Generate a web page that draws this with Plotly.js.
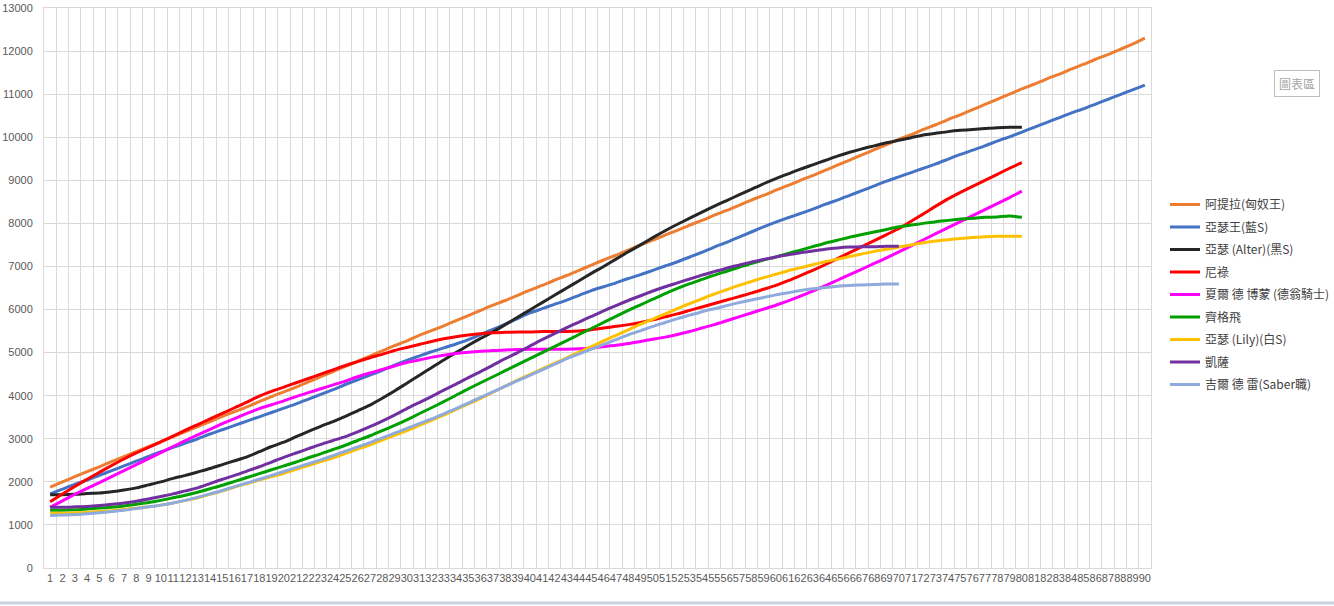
<!DOCTYPE html>
<html>
<head>
<meta charset="utf-8">
<script src="https://cdn.plot.ly/plotly-3.0.1.min.js"></script>
<style>
html,body{margin:0;padding:0;background:#fff;}
#chart{width:1334px;height:606px;}
</style>
</head>
<body>
<div id="chart"></div>
<script>
const categories = ["1","2","3","4","5","6","7","8","9","10","11","12","13","14","15","16","17","18","19","20","21","22","23","24","25","26","27","28","29","30","31","32","33","34","35","36","37","38","39","40","41","42","43","44","45","46","47","48","49","50","51","52","53","54","55","56","57","58","59","60","61","62","63","64","65","66","67","68","69","70","71","72","73","74","75","76","77","78","79","80","81","82","83","84","85","86","87","88","89","90"];

const seriesNames = ["阿提拉(匈奴王)","亞瑟王(藍S)","亞瑟 (Alter)(黑S)","尼祿","夏爾 德 博蒙 (德翁騎士)","齊格飛","亞瑟 (Lily)(白S)","凱薩","吉爾 德 雷(Saber職)"];

const attila = [1880,2000,2120,2235,2350,2470,2585,2700,2815,2930,3050,3165,3280,3400,3520,3630,3740,3860,3980,4090,4200,4320,4440,4560,4680,4800,4920,5040,5160,5270,5400,5510,5620,5740,5860,5980,6100,6210,6330,6450,6560,6680,6790,6910,7030,7150,7260,7380,7500,7610,7730,7840,7960,8070,8190,8300,8420,8540,8650,8770,8880,9000,9110,9230,9350,9470,9590,9710,9830,9950,10060,10180,10290,10410,10520,10640,10760,10880,11000,11120,11230,11350,11460,11580,11690,11810,11920,12040,12160,12300];

const arturiaBlue = [1720,1830,1940,2040,2150,2260,2370,2480,2590,2700,2800,2900,3000,3110,3210,3310,3410,3510,3610,3710,3810,3920,4030,4140,4260,4370,4480,4590,4710,4820,4920,5020,5110,5200,5300,5420,5540,5660,5790,5920,6020,6120,6220,6330,6440,6530,6620,6720,6810,6910,7010,7110,7220,7330,7450,7560,7680,7800,7920,8030,8130,8230,8330,8440,8540,8650,8760,8870,8980,9080,9180,9280,9380,9490,9600,9700,9800,9910,10010,10120,10230,10340,10450,10560,10660,10770,10880,10990,11100,11210];

const arturiaAlter = [1700,1700,1710,1730,1740,1770,1810,1860,1930,2000,2080,2150,2230,2310,2400,2490,2580,2700,2820,2920,3050,3170,3290,3400,3520,3650,3780,3940,4110,4290,4470,4650,4830,5000,5170,5330,5480,5650,5820,5990,6160,6330,6500,6670,6840,7000,7170,7340,7500,7670,7830,7980,8120,8260,8400,8530,8660,8790,8920,9040,9150,9260,9360,9460,9560,9650,9730,9800,9870,9930,9990,10050,10090,10130,10160,10180,10200,10220,10230,10230];

const nero = [1540,1720,1890,2060,2220,2380,2530,2670,2800,2930,3060,3200,3330,3460,3590,3720,3850,3990,4100,4200,4300,4400,4500,4600,4700,4790,4880,4960,5050,5120,5190,5260,5320,5370,5410,5440,5460,5470,5480,5480,5490,5490,5490,5500,5530,5570,5610,5650,5700,5760,5830,5900,5980,6060,6140,6220,6300,6380,6470,6560,6670,6790,6910,7040,7180,7320,7460,7600,7740,7880,8050,8220,8400,8570,8720,8860,9000,9140,9280,9410];

const chevalier = [1410,1560,1710,1850,1980,2120,2260,2400,2540,2680,2820,2960,3090,3220,3350,3470,3590,3700,3790,3880,3980,4070,4160,4250,4340,4440,4530,4610,4690,4770,4830,4890,4940,4980,5010,5030,5050,5060,5070,5080,5080,5080,5080,5090,5110,5140,5170,5210,5260,5310,5360,5420,5490,5570,5650,5740,5830,5920,6010,6100,6200,6310,6430,6550,6680,6810,6940,7070,7200,7340,7480,7620,7760,7900,8040,8180,8320,8460,8600,8750];

const siegfried = [1340,1340,1350,1370,1390,1410,1440,1480,1520,1570,1630,1690,1760,1840,1920,2010,2100,2190,2280,2370,2460,2560,2650,2750,2850,2960,3070,3190,3310,3440,3580,3720,3860,4010,4160,4300,4440,4580,4720,4860,5000,5140,5280,5420,5560,5700,5840,5980,6110,6240,6370,6490,6600,6700,6800,6890,6980,7070,7150,7220,7300,7380,7460,7540,7610,7680,7740,7800,7860,7920,7960,8000,8040,8070,8100,8120,8140,8150,8170,8140];

const arturiaLily = [1270,1270,1280,1290,1310,1330,1360,1390,1420,1460,1510,1570,1630,1710,1790,1880,1960,2040,2120,2200,2290,2380,2470,2560,2660,2760,2860,2970,3080,3190,3310,3430,3550,3680,3810,3940,4080,4220,4360,4490,4620,4750,4880,5010,5140,5270,5400,5530,5660,5780,5900,6020,6140,6250,6360,6460,6560,6650,6740,6820,6900,6970,7040,7110,7170,7230,7290,7350,7400,7450,7500,7550,7590,7620,7650,7670,7690,7700,7700,7700];

const caesar = [1410,1410,1420,1430,1450,1480,1510,1550,1600,1660,1720,1790,1860,1960,2060,2150,2250,2350,2460,2570,2670,2770,2870,2960,3050,3160,3280,3410,3550,3700,3840,3980,4130,4270,4420,4560,4710,4860,5000,5150,5300,5440,5580,5710,5840,5970,6090,6210,6320,6430,6530,6620,6710,6800,6880,6960,7030,7100,7160,7220,7270,7320,7360,7400,7430,7450,7460,7460,7470,7470];

const gillesSaber = [1220,1230,1240,1260,1280,1310,1340,1380,1420,1460,1510,1570,1640,1720,1800,1890,1970,2060,2150,2240,2330,2420,2510,2610,2710,2810,2910,3020,3130,3240,3350,3460,3580,3700,3830,3960,4090,4220,4350,4470,4600,4730,4860,4970,5080,5190,5300,5410,5510,5610,5700,5790,5870,5950,6020,6090,6160,6220,6280,6340,6390,6440,6480,6510,6540,6560,6570,6580,6590,6590];

const yTicks = [0,1000,2000,3000,4000,5000,6000,7000,8000,9000,10000,11000,12000,13000];

const allSeries = [attila, arturiaBlue, arturiaAlter, nero, chevalier, siegfried, arturiaLily, caesar, gillesSaber];
const colors = ["#ED7D31","#4472C4","#262626","#FF0000","#FF00FF","#00A000","#FFC000","#7030A0","#8FAADC"];

const traces = allSeries.map((vals, i) => ({
  type: 'scatter',
  mode: 'lines',
  name: seriesNames[i],
  legendgroup: 'g' + i,
  x: categories.slice(0, vals.length),
  y: vals,
  line: {color: colors[i], width: 3, shape: 'spline', smoothing: 0.6},
  hoverinfo: 'x+y+name'
}));

const L = 44, R = 1151, T = 8, B = 568;
const PW = R - L, PH = B - T;

const layout = {
  width: 1334,
  height: 606,
  margin: {l: L, r: 1334 - R, t: T, b: 606 - B, pad: 0, autoexpand: false},
  paper_bgcolor: '#ffffff',
  plot_bgcolor: '#ffffff',
  font: {family: '"Liberation Sans", "Noto Sans CJK TC", sans-serif', color: '#595959', size: 11},
  showlegend: true,
  legend: {
    x: (1165 - L) / PW, y: (B - 190) / PH, xanchor: 'left', yanchor: 'top',
    font: {family: '"Noto Sans CJK TC", "Liberation Sans", sans-serif', size: 12, color: '#404040'},
    tracegroupgap: 3.5,
    bgcolor: 'rgba(0,0,0,0)'
  },
  xaxis: {
    type: 'category',
    categoryorder: 'array',
    categoryarray: categories,
    tickmode: 'array',
    tickvals: categories,
    ticktext: categories,
    tickson: 'boundaries',
    tickangle: 0,
    range: [-0.5, 89.5],
    showgrid: true,
    gridcolor: '#D9D9D9',
    gridwidth: 1,
    showline: true,
    linecolor: '#D9D9D9',
    linewidth: 1,
    mirror: true,
    ticks: 'outside',
    ticklen: 5,
    tickcolor: 'rgba(0,0,0,0)',
    tickfont: {size: 11, color: '#595959'},
    zeroline: false,
    fixedrange: true
  },
  yaxis: {
    range: [0, 13000],
    tickmode: 'array',
    tickvals: yTicks,
    ticktext: yTicks.map(String),
    showgrid: true,
    gridcolor: '#D9D9D9',
    gridwidth: 1,
    showline: true,
    linecolor: '#D9D9D9',
    mirror: true,
    ticks: 'outside',
    ticklen: 8,
    tickcolor: 'rgba(0,0,0,0)',
    tickfont: {size: 11, color: '#595959'},
    zeroline: false,
    fixedrange: true
  },
  annotations: [{
    xref: 'paper', yref: 'paper',
    x: (1297 - L) / PW, y: (B - 84) / PH,
    xanchor: 'center', yanchor: 'middle',
    text: '圖表區',
    showarrow: false,
    font: {family: '"Noto Sans CJK TC", sans-serif', size: 12, color: '#A6A6A6'},
    bordercolor: '#BFBFBF', borderwidth: 1, borderpad: 4,
    bgcolor: '#FFFFFF'
  }],
  shapes: [{
    type: 'line', xref: 'paper', yref: 'paper',
    x0: -L / PW, x1: (1334 - L) / PW,
    y0: (B - 603) / PH, y1: (B - 603) / PH,
    line: {color: '#C9D3DF', width: 3}
  }]
};

Plotly.newPlot('chart', traces, layout, {displayModeBar: false, staticPlot: true});
</script>
</body>
</html>
